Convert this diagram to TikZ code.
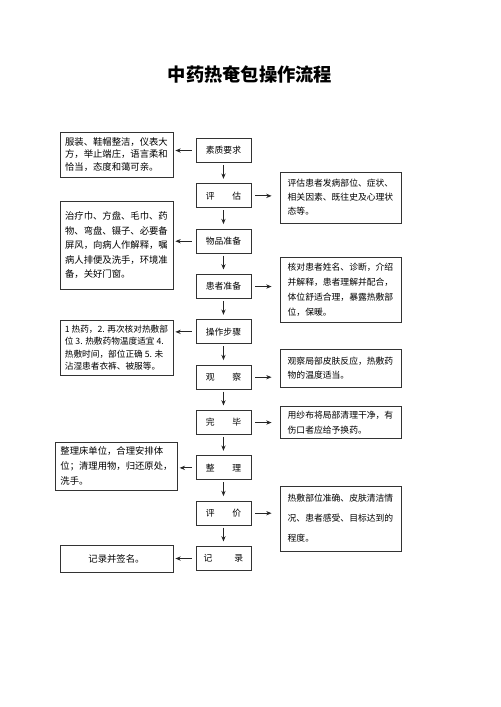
\documentclass[tikz,border=0pt]{standalone}
\usepackage{fontspec}
\setmainfont{Noto Sans CJK SC}
\usetikzlibrary{arrows.meta}

\newcommand{\fs}[2]{\fontsize{#1}{#2}\selectfont}

\begin{document}
\begin{tikzpicture}[node distance=34pt, auto,
    stepbox/.style={rectangle, draw=black!80, line width=0.6pt, minimum width=41.25pt, minimum height=18pt, inner sep=2pt, font=\fs{6.6pt}{8pt}},
    lbox/.style={rectangle, draw=black!80, line width=0.6pt, minimum width=84.75pt, inner xsep=3.6pt, inner ysep=3pt, align=left, font=\fs{7pt}{9.4pt}},
    rbox/.style={rectangle, draw=black!80, line width=0.6pt, minimum width=90.75pt, inner xsep=5pt, inner ysep=3pt, align=left, font=\fs{6.6pt}{10.5pt}},
    arrow/.style={-{Stealth[length=4pt,width=3.2pt]}, line width=0.6pt, black!85},
    larrow/.style={arrow, shorten <=3pt, shorten >=1.5pt},
    rarrow/.style={arrow, shorten <=3pt, shorten >=6pt},
    varrow/.style={arrow, shorten <=1.5pt, shorten >=3.5pt}]

    \useasboundingbox (0,0) rectangle (375pt,-530.25pt);

    \node[font=\fs{13.7pt}{16pt}\bfseries] (title) at (187.5pt,-56.25pt) {中药热奄包操作流程};

    % main column
    \node[stepbox] (c1) at (167.6pt,-112.9pt) {素质要求};
    \node[stepbox, below of=c1] (c2) {评\hspace{2em}估};
    \node[stepbox, below of=c2] (c3) {物品准备};
    \node[stepbox, below of=c3] (c4) {患者准备};
    \node[stepbox, below of=c4] (c5) {操作步骤};
    \node[stepbox, below of=c5] (c6) {观\hspace{2em}察};
    \node[stepbox, below of=c6] (c7) {完\hspace{2em}毕};
    \node[stepbox, below of=c7] (c8) {整\hspace{2em}理};
    \node[stepbox, below of=c8] (c9) {评\hspace{2em}价};
    \node[stepbox, below of=c9] (c10) {记\hspace{2.5em}录};

    % left notes
    \node[lbox, left of=c1, node distance=80.25pt, yshift=-3pt, minimum height=33.75pt] (l1)
        {服装、鞋帽整洁，仪表大\\方，举止端庄，语言柔和\\恰当，态度和蔼可亲。};
    \node[lbox, left of=c3, node distance=80.25pt, yshift=-2.9pt, minimum height=66pt, font=\fs{7pt}{10.9pt}] (l2)
        {治疗巾、方盘、毛巾、药\\物、弯盘、镊子、必要备\\屏风，向病人作解释，嘱\\病人排便及洗手，环境准\\备，关好门窗。};
    \node[lbox, left of=c5, node distance=80.25pt, yshift=-11.8pt, minimum height=41.25pt, font=\fs{6.5pt}{9.4pt}] (l3)
        {1 热药，2. 再次核对热敷部\\位 3. 热敷药物温度适宜 4.\\热敷时间，部位正确 5. 未\\沾湿患者衣裤、被服等。};
    \node[lbox, left of=c8, node distance=80.25pt, yshift=1.4pt, minimum height=36pt, font=\fs{7pt}{11.2pt}] (l4)
        {整理床单位，合理安排体\\位；清理用物，归还原处，\\洗手。};
    \node[lbox, left of=c10, node distance=80.25pt, minimum height=20.25pt, align=center] (l5)
        {记录并签名。};

    % right notes
    \node[rbox, right of=c2, node distance=87.75pt, yshift=-1.3pt, minimum height=38.25pt] (r1)
        {评估患者发病部位、症状、\\相关因素、既往史及心理状\\态等。};
    \node[rbox, right of=c4, node distance=87.75pt, yshift=-2.3pt, minimum height=48.75pt, font=\fs{6.6pt}{11.2pt}] (r2)
        {核对患者姓名、诊断，介绍\\并解释，患者理解并配合，\\体位舒适合理，暴露热敷部\\位，保暖。};
    \node[rbox, right of=c6, node distance=87.75pt, yshift=6.9pt, minimum height=28.5pt, font=\fs{6.6pt}{10pt}] (r3)
        {观察局部皮肤反应，热敷药\\物的温度适当。};
    \node[rbox, right of=c7, node distance=87.75pt, minimum height=24pt, font=\fs{6.6pt}{10.7pt}] (r4)
        {用纱布将局部清理干净，有\\伤口者应给予换药。};
    \node[rbox, right of=c9, node distance=87.75pt, yshift=-4pt, minimum height=48.75pt, font=\fs{6.6pt}{15pt}] (r5)
        {热敷部位准确、皮肤清洁情\\况、患者感受、目标达到的\\程度。};

    % connectors
    \foreach \a/\b in {c1/c2, c2/c3, c3/c4, c4/c5, c5/c6, c6/c7, c7/c8, c8/c9, c9/c10}
        \draw[varrow] (\a) -- (\b);
    \foreach \c/\n in {c1/l1, c3/l2, c5/l3, c8/l4, c10/l5}
        \draw[larrow] (\c.west) -- (\c.west -| \n.east);
    \foreach \c/\n in {c2/r1, c4/r2, c6/r3, c7/r4, c9/r5}
        \draw[rarrow] (\c.east) -- (\c.east -| \n.west);
\end{tikzpicture}
\end{document}
